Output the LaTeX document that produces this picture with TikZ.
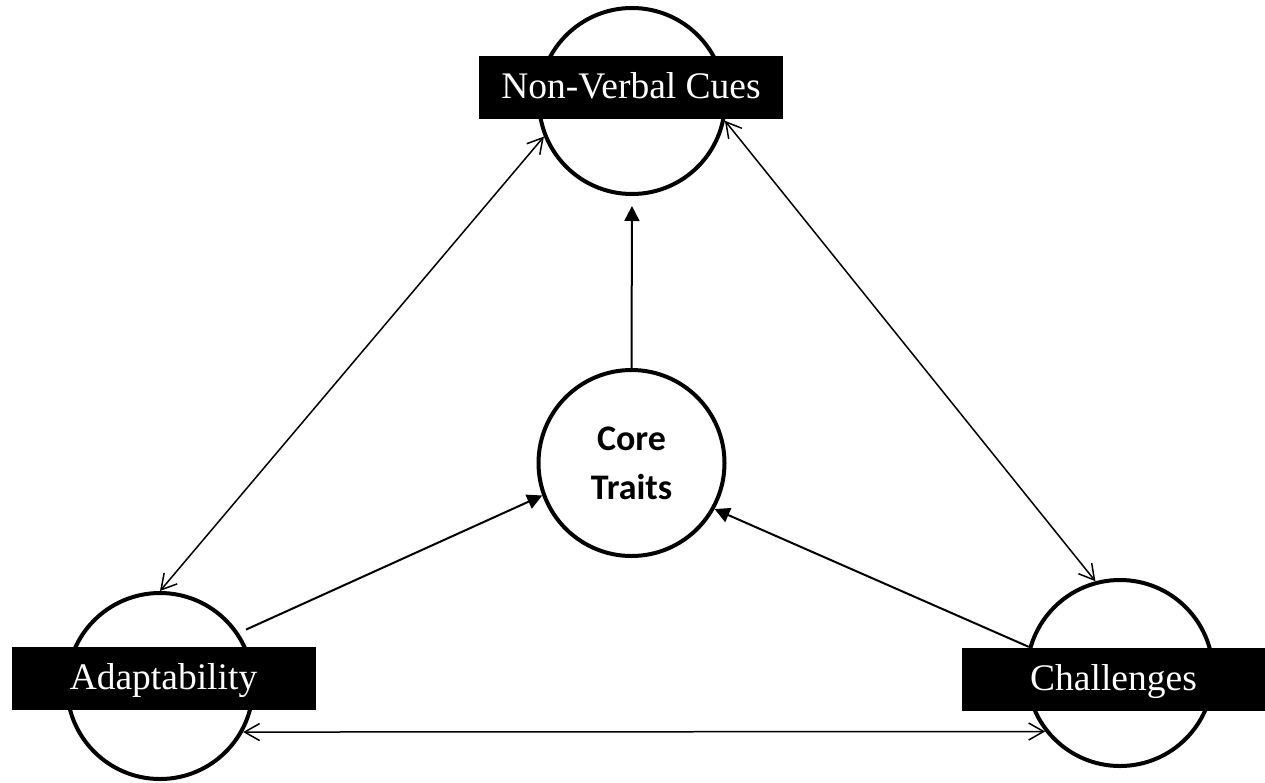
\documentclass[tikz,border=0pt]{standalone}
\usepackage{fontspec}
\setmainfont{Liberation Serif}
\newfontfamily\carlito{Carlito}
\usetikzlibrary{arrows.meta}
\begin{document}
\begin{tikzpicture}[x=1pt,y=-1pt,
 ring/.style={circle,draw,line width=4pt,minimum size=186pt,inner sep=0pt},
 tag/.style={fill=black,text=white,font=\fontsize{37.5}{40}\selectfont,minimum width=304pt,minimum height=63pt,inner sep=0pt,text height=25pt,text depth=3pt},
 dual/.style={line width=1.5pt,{Straight Barb[length=15pt,width=17pt]}-{Straight Barb[length=15pt,width=17pt]}},
 feed/.style={line width=2pt,-{Triangle[length=15pt,width=15pt]}}]
\useasboundingbox (0,0) rectangle (1265,782);
\node[ring] (nvc) at (632,101) {};
\node[ring,align=center,font=\carlito\bfseries\fontsize{36}{49}\selectfont] (core) at (631.5,463) {Core\\Traits};
\node[ring] (adapt) at (160,686) {};
\node[ring] (chall) at (1120,673) {};
\draw[dual] (adapt.90) -- (nvc.202);
\draw[dual] (nvc.348) -- (chall.105);
\draw[dual] (adapt.-29) -- (chall.218.4);
\draw[feed, shorten <=8pt] (adapt.34) -- (core.200);
\draw[feed] (chall.164) -- (core.331);
\draw[feed, shorten >=10pt] (core.90) -- (nvc.270);
\node[tag] (nvcl) at (631,87) {Non-Verbal Cues};
\node[tag] (adaptl) at (163.5,678.5) {Adaptability};
\node[tag] (challl) at (1113.5,679) {Challenges};
\end{tikzpicture}
\end{document}
